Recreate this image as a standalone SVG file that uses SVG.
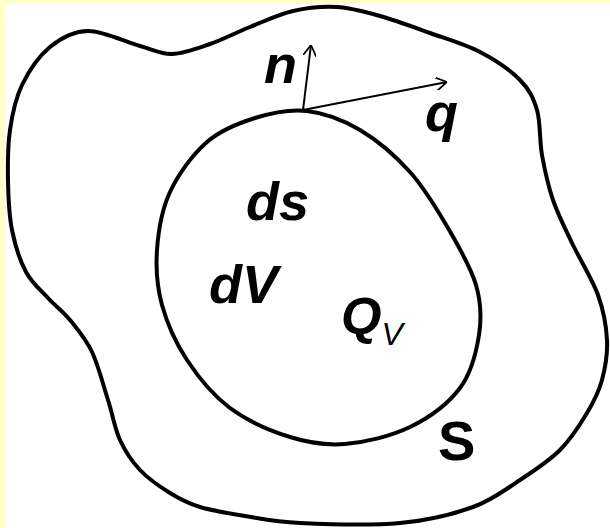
<svg xmlns="http://www.w3.org/2000/svg" width="610" height="528" viewBox="0 0 610 528">
<style>
.curve{fill:none;stroke:#000;stroke-width:4;stroke-linejoin:round}
.arrow{fill:none;stroke:#000;stroke-width:2}
.lbl{font-family:"Liberation Sans",Arial,sans-serif;font-weight:bold;font-style:italic;fill:#000}
.sub{font-family:"Liberation Sans",Arial,sans-serif;font-weight:normal;font-style:italic;fill:#000}
.up{font-family:"Liberation Sans",Arial,sans-serif;font-weight:bold;fill:#000}
</style>
<defs>
<marker id="head" viewBox="0 0 10 12" refX="10" refY="6" markerWidth="11" markerHeight="13" markerUnits="userSpaceOnUse" orient="auto">
<path d="M0,0 L10,6 L0,12" fill="none" stroke="#000" stroke-width="1.6"/>
</marker>
</defs>
<rect x="0" y="0" width="610" height="528" fill="#FFFFCC"/>
<rect x="6" y="4" width="604" height="524" fill="#FFFFFF"/>
<g id="outer-region">
<path class="curve" d="M88,31 C103,30.8 126,42.2 140,46 C154,49.8 160.3,54.3 172,54 C183.7,53.7 197,48.5 210,44 C223,39.5 236.2,32.5 250,27 C263.8,21.5 278.5,14.3 293,11 C307.5,7.7 322.5,6.2 337,7 C351.5,7.8 364.5,11.7 380,16 C395.5,20.3 413.3,27 430,33 C446.7,39 465,44.2 480,52 C495,59.8 510.5,70.3 520,80 C529.5,89.7 533.3,97.5 537,110 C540.7,122.5 539.3,140 542,155 C544.7,170 548,185.3 553,200 C558,214.7 564.5,227.2 572,243 C579.5,258.8 592.2,278.8 598,295 C603.8,311.2 606.3,325.8 607,340 C607.7,354.2 605.3,367.8 602,380 C598.7,392.2 594,401.3 587,413 C580,424.7 571.2,438.8 560,450 C548.8,461.2 534.5,470.5 520,480 C505.5,489.5 493,499.8 473,507 C453,514.2 428.8,520.3 400,523 C371.2,525.7 325.8,524.2 300,523 C274.2,521.8 261.7,518.7 245,516 C228.3,513.3 212.5,510.8 200,507 C187.5,503.2 180,499.2 170,493 C160,486.8 148.3,478.8 140,470 C131.7,461.2 125.3,451.7 120,440 C114.7,428.3 112.7,414.7 108,400 C103.3,385.3 98.3,365.3 92,352 C85.7,338.7 77.3,329 70,320 C62.7,311 55.3,306 48,298 C40.7,290 32,283.3 26,272 C20,260.7 15,245.3 12,230 C9,214.7 8.3,196.7 8,180 C7.7,163.3 7.7,145.8 10,130 C12.3,114.2 15.3,98.8 22,85 C28.7,71.2 39,56 50,47 C61,38 73,31.2 88,31 Z"/>
<text class="up" x="438" y="460" font-size="56">S</text>
</g>
<g id="inner-volume">
<path class="curve" d="M307,111 C324.5,113 342.8,119.8 360,130 C377.2,140.2 395.3,155.7 410,172 C424.7,188.3 437,209.2 448,228 C459,246.8 470.8,267.2 476,285 C481.2,302.8 481.7,317.8 479,335 C476.3,352.2 471.5,372.7 460,388 C448.5,403.3 429.2,417.7 410,427 C390.8,436.3 365,442.3 345,444 C325,445.7 309.2,443 290,437 C270.8,431 247.2,420.8 230,408 C212.8,395.2 198.3,377.2 187,360 C175.7,342.8 167,323.3 162,305 C157,286.7 155.7,268.8 157,250 C158.3,231.2 161.7,210 170,192 C178.3,174 192.8,154.3 207,142 C221.2,129.7 238.3,123.2 255,118 C271.7,112.8 289.5,109 307,111 Z"/>
<text class="lbl" x="246" y="220" font-size="54">ds</text>
<text class="lbl" x="209" y="303" font-size="54">dV</text>
<text x="341" y="334"><tspan class="lbl" font-size="52">Q</tspan><tspan class="sub" font-size="32" dy="11">V</tspan></text>
</g>
<g id="connectors">
<line class="arrow" x1="303" y1="110" x2="311" y2="45" marker-end="url(#head)"/>
<line class="arrow" x1="303" y1="110" x2="447" y2="82" marker-end="url(#head)"/>
</g>
<g id="labels">
<text class="lbl" x="264" y="83" font-size="54">n</text>
<text class="lbl" x="425" y="131" font-size="54">q</text>
</g>
</svg>
